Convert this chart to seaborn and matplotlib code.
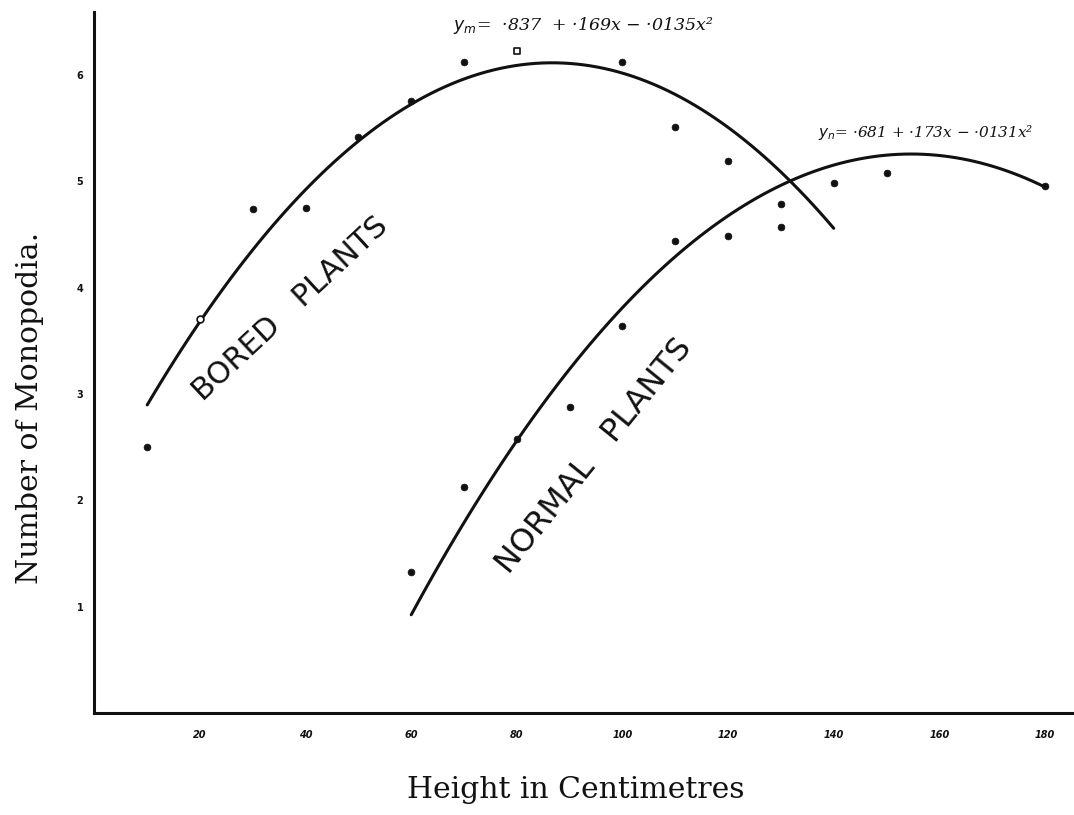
import numpy as np
import pandas as pd
import matplotlib
matplotlib.use("Agg")
import matplotlib.pyplot as plt
import seaborn as sns

bored_height = [10, 20, 30, 40, 50, 60, 70, 80, 100, 110, 120, 130]
bored_monopodia = [2.50, 3.70, 4.74, 4.75, 5.42, 5.75, 6.12, 6.22, 6.12, 5.51, 5.19, 4.79]
bored_marker = ["dot", "ring", "dot", "dot", "dot", "dot", "dot", "square",
                "dot", "dot", "dot", "dot"]

normal_height = [60, 70, 80, 90, 100, 110, 120, 130, 140, 150, 180]
normal_monopodia = [1.33, 2.12, 2.58, 2.88, 3.64, 4.44, 4.48, 4.57, 4.98, 5.08, 4.95]

# ---- fitted (parabolic) curves ----
bored_curve_height = [10, 20, 30, 40, 50, 60, 70, 80, 90, 100, 110, 120, 130, 140]
bored_curve_value = [2.87, 3.70, 4.36, 4.92, 5.40, 5.74, 5.95, 6.07, 6.09, 6.01,
                     5.81, 5.52, 5.10, 4.55]
normal_curve_height = [60, 70, 80, 90, 100, 110, 120, 130, 140, 150, 160, 170, 180]
normal_curve_value = [0.93, 1.79, 2.56, 3.23, 3.80, 4.29, 4.68, 4.96, 5.15, 5.25,
                      5.25, 5.15, 4.93]

x_ticks = [20, 40, 60, 80, 100, 120, 140, 160, 180]
x_ticklabels = ["20", "40", "60", "80", "100", "120", "140", "160", "180"]
y_ticks = [1, 2, 3, 4, 5, 6]
y_ticklabels = ["1", "2", "3", "4", "5", "6"]

bored_eq = "$y_m$=  ·837  + ·169x − ·0135x²"
normal_eq = "$y_n$= ·681 + ·173x − ·0131x²"

bored = pd.DataFrame({"height": bored_height, "monopodia": bored_monopodia,
                      "marker": bored_marker})
normal = pd.DataFrame({"height": normal_height, "monopodia": normal_monopodia})
bored_curve = pd.DataFrame({"height": bored_curve_height, "monopodia": bored_curve_value})
normal_curve = pd.DataFrame({"height": normal_curve_height, "monopodia": normal_curve_value})

sns.set_theme(style="white")
plt.rcParams["font.family"] = ["DejaVu Sans"]

ink = "#111111"
fig = plt.figure(figsize=(10.74, 8.15), dpi=100)
ax = fig.add_axes([0.0879, 0.1252, 0.9121, 0.860])

# quadratic curves (second-order regression through the curve readings)
for curve in (bored_curve, normal_curve):
    sns.regplot(data=curve, x="height", y="monopodia", order=2, ci=None,
                scatter=False, truncate=True,
                line_kws=dict(color=ink, lw=2.2, solid_capstyle="round"), ax=ax)

# observed points
sns.scatterplot(data=bored[bored["marker"] == "dot"], x="height", y="monopodia",
                color=ink, s=24, edgecolor=ink, linewidth=0.5, ax=ax, zorder=3)
sns.scatterplot(data=bored[bored["marker"] == "ring"], x="height", y="monopodia",
                facecolor="white", s=24, edgecolor=ink, linewidth=1.2, ax=ax, zorder=3)
sns.scatterplot(data=bored[bored["marker"] == "square"], x="height", y="monopodia",
                marker="s", facecolor="white", s=22, edgecolor=ink, linewidth=1.2,
                ax=ax, zorder=3)
sns.scatterplot(data=normal, x="height", y="monopodia",
                color=ink, s=24, edgecolor=ink, linewidth=0.5, ax=ax, zorder=3)

ax.set_xlim(0, 185.5)
ax.set_ylim(0, 6.59)
ax.set_xticks(x_ticks)
ax.set_xticklabels(x_ticklabels, fontsize=7, fontweight="bold", style="italic")
ax.set_yticks(y_ticks)
ax.set_yticklabels(y_ticklabels, fontsize=7, fontweight="bold")
ax.tick_params(axis="y", length=3, width=1, color=ink, labelcolor=ink, pad=5)
ax.tick_params(axis="x", length=0, pad=12, labelcolor=ink)

sns.despine(ax=ax)
for side in ("left", "bottom"):
    ax.spines[side].set_linewidth(2.2)
    ax.spines[side].set_color(ink)

ax.set_xlabel("")
ax.set_ylabel("")
fig.text(0.536, 0.031, "Height in Centimetres", family="DejaVu Serif", fontsize=21.5,
         color=ink, ha="center", va="center")
fig.text(0.028, 0.500, "Number of Monopodia.", family="DejaVu Serif", fontsize=21.5,
         color=ink, ha="center", va="center", rotation=90)

ax.text(20.5, 2.92, "BORED   PLANTS", rotation=43, fontsize=22, color=ink,
        family="DejaVu Sans", ha="left", va="baseline", rotation_mode="anchor")
ax.text(78.5, 1.30, "NORMAL   PLANTS", rotation=51, fontsize=23, color=ink,
        family="DejaVu Sans", ha="left", va="baseline", rotation_mode="anchor")

ax.text(67.9, 6.46, bored_eq, fontsize=12.5, color=ink, family="DejaVu Serif",
        style="italic", ha="left", va="center")
ax.text(137, 5.46, normal_eq, fontsize=11, color=ink, family="DejaVu Serif",
        style="italic", ha="left", va="center")

fig.savefig("out.png", dpi=100, facecolor="white")
